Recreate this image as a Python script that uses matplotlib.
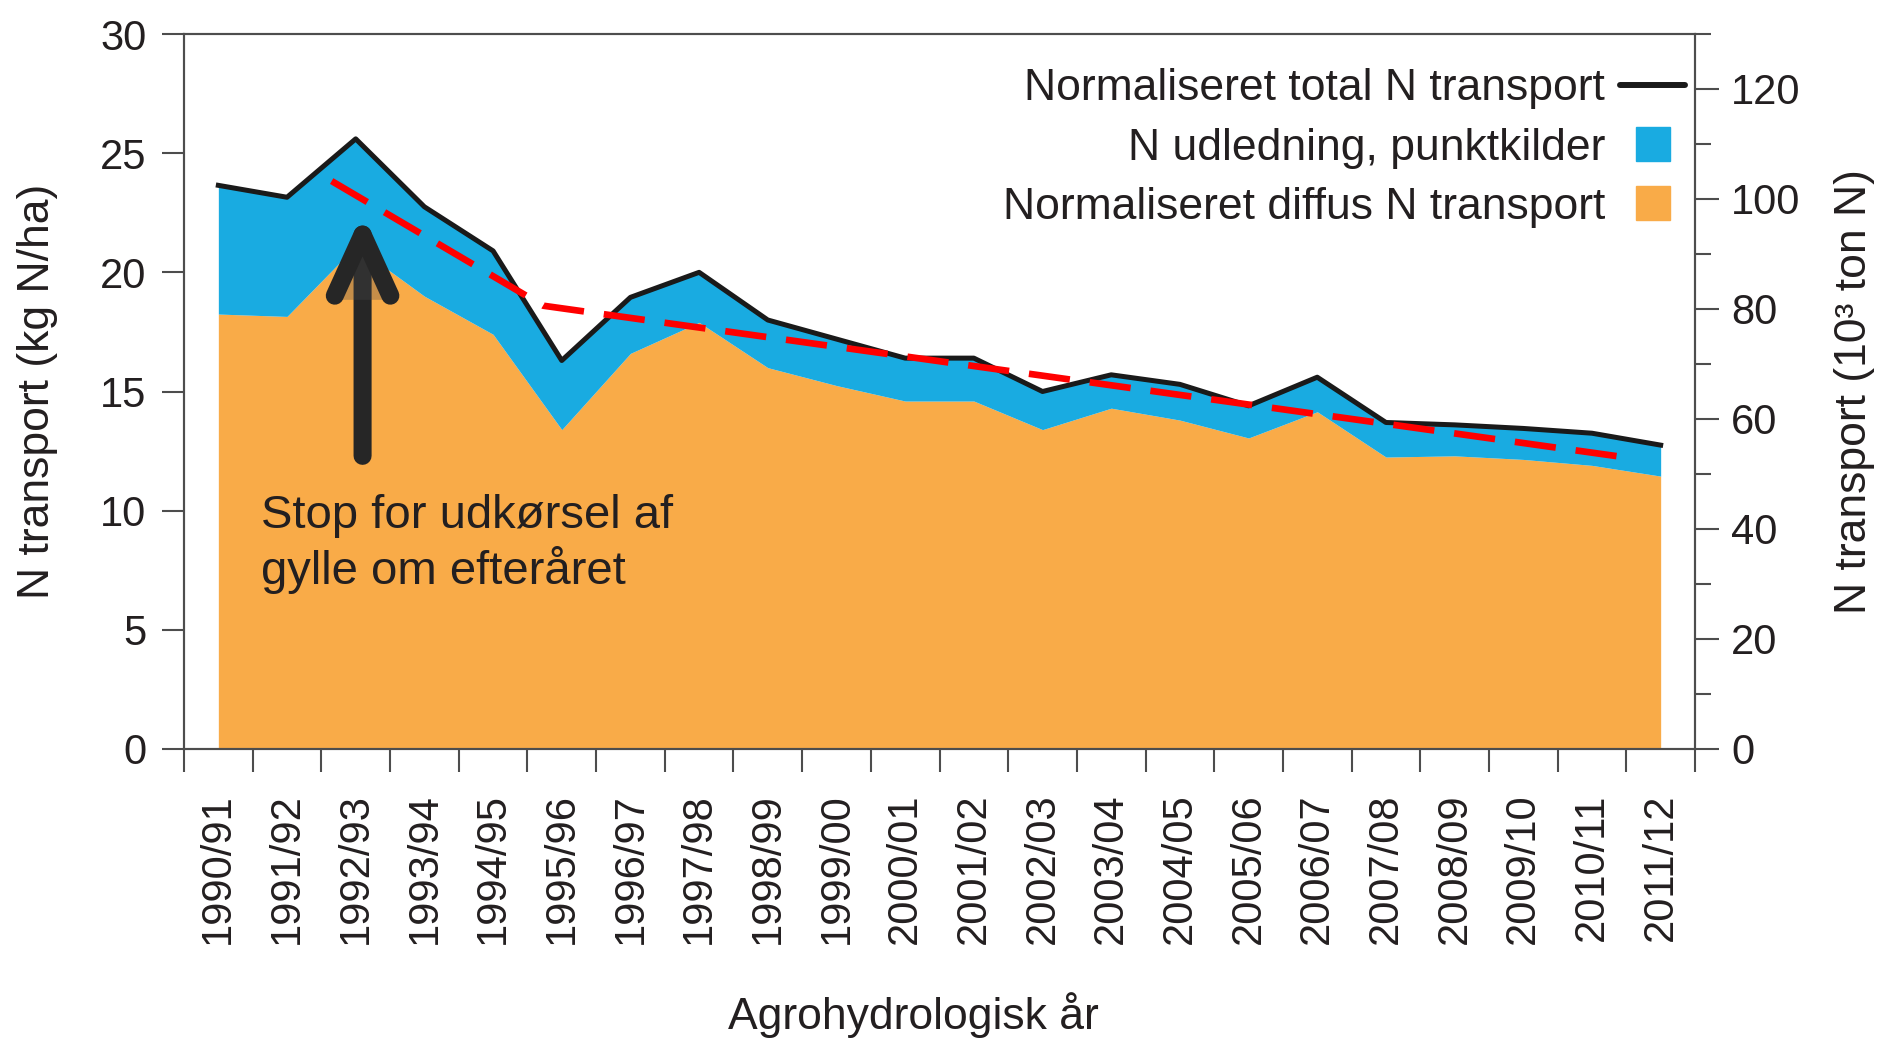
import matplotlib
matplotlib.use("Agg")
import matplotlib.pyplot as plt
import matplotlib.patheffects as pe
from matplotlib.lines import Line2D
import numpy as np

plt.rcParams['font.family'] = ['Liberation Sans', 'DejaVu Sans']

# data
years = ['1990/91', '1991/92', '1992/93', '1993/94', '1994/95', '1995/96',
         '1996/97', '1997/98', '1998/99', '1999/00', '2000/01', '2001/02',
         '2002/03', '2003/04', '2004/05', '2005/06', '2006/07', '2007/08',
         '2008/09', '2009/10', '2010/11', '2011/12']
total = [23.65, 23.15, 25.6, 22.75, 20.9, 16.3, 18.95, 20.0, 18.0, 17.2, 16.4,
         16.4, 15.0, 15.7, 15.3, 14.4, 15.6, 13.7, 13.6, 13.45, 13.25, 12.75]
diffus = [18.25, 18.15, 21.1, 19.0, 17.4, 13.4, 16.6, 17.9, 16.0, 15.25, 14.6,
          14.6, 13.4, 14.3, 13.8, 13.05, 14.15, 12.25, 12.3, 12.15, 11.9, 11.45]
# red dashed trend (position in year index, value)
trend_x = [1.65, 4.73, 20.58]
trend_y = [23.83, 18.6, 12.2]

orange = '#F9AB48'
blue = '#19ABE1'
txt = '#231F20'
spine = '#4D4D4D'

x = np.arange(len(years))

fig = plt.figure(figsize=(18.79, 10.40), dpi=100)
ax = fig.add_axes([184/1879, 1-749/1040, 1511/1879, 715/1040])

ax.fill_between(x, 0, diffus, color=orange, lw=0, zorder=1)
ax.fill_between(x, diffus, total, color=blue, lw=0, zorder=1)
ax.plot(x, total, color='#1A1A1A', lw=3.6, solid_joinstyle='round', zorder=3)
ax.plot(trend_x, trend_y, color='#FF0000', lw=4.8, dashes=(6.2, 3.0), zorder=4)

ax.annotate('', xy=(2.1, 22.5), xytext=(2.1, 12.3),
            arrowprops=dict(arrowstyle='->,head_length=2.2,head_width=1.0',
                            lw=13, color='#262626', mutation_scale=20,
                            shrinkA=0, shrinkB=0, capstyle='round',
                            joinstyle='round',
                            path_effects=[pe.SimplePatchShadow(offset=(3, -3), alpha=0.3),
                                          pe.Normal()]),
            zorder=5)
ax.text(0.62, 8.6, 'Stop for udkørsel af\ngylle om efteråret', fontsize=34,
        color=txt, ha='left', va='center', linespacing=1.2, zorder=6)

ax.set_xlim(-0.5, len(years) - 0.5)
ax.set_ylim(0, 30)
ax.set_yticks(np.arange(0, 31, 5))
ax.set_xticks(np.arange(len(years) + 1) - 0.5)
ax.set_xticklabels([])
ax.set_xticks(x, years, minor=True)
ax.tick_params(axis='x', which='minor', length=0, pad=32, labelsize=30,
               labelrotation=90, labelcolor=txt)
ax.tick_params(axis='x', which='major', length=16.5, width=1.5, color=spine)
ax.tick_params(axis='y', length=16, width=1.5, color=spine, pad=11,
               labelsize=30, labelcolor=txt)
for s in ax.spines.values():
    s.set_color(spine)
    s.set_linewidth(1.5)
ax.set_ylabel('N transport (kg N/ha)', fontsize=32, color=txt, labelpad=30)
ax.set_xlabel('Agrohydrologisk år', fontsize=32, color=txt, labelpad=34, x=0.483)

ax2 = ax.twinx()
ax2.set_ylim(0, 130)
ax2.set_yticks(np.arange(0, 121, 20))
ax2.set_yticks(np.arange(10, 131, 20), minor=True)
ax2.tick_params(axis='y', which='major', length=17, width=1.5, color=spine,
                pad=9, labelsize=30, labelcolor=txt)
ax2.tick_params(axis='y', which='minor', length=11.5, width=1.5, color=spine)
for s in ax2.spines.values():
    s.set_color(spine)
    s.set_linewidth(1.5)
ax2.set_ylabel('N transport (10³ ton N)', fontsize=32, color=txt, labelpad=24)

handles = [Line2D([], [], color='#1A1A1A', lw=4.3, solid_capstyle='round'),
           Line2D([], [], color=blue, marker='s', markersize=23.8, ls='none'),
           Line2D([], [], color=orange, marker='s', markersize=23.8, ls='none')]
labels = ['Normaliseret total N transport', 'N udledning, punktkilder',
          'Normaliseret diffus N transport']
leg = ax2.legend(handles, labels, loc='upper right', bbox_to_anchor=(0.9934, 0.952),
                 frameon=False, markerfirst=False, fontsize=32, handlelength=1.46,
                 handletextpad=0.34, labelspacing=0.41, borderpad=0,
                 borderaxespad=0, numpoints=1)
for t in leg.get_texts():
    t.set_color(txt)

fig.savefig('out.png', dpi=100)
